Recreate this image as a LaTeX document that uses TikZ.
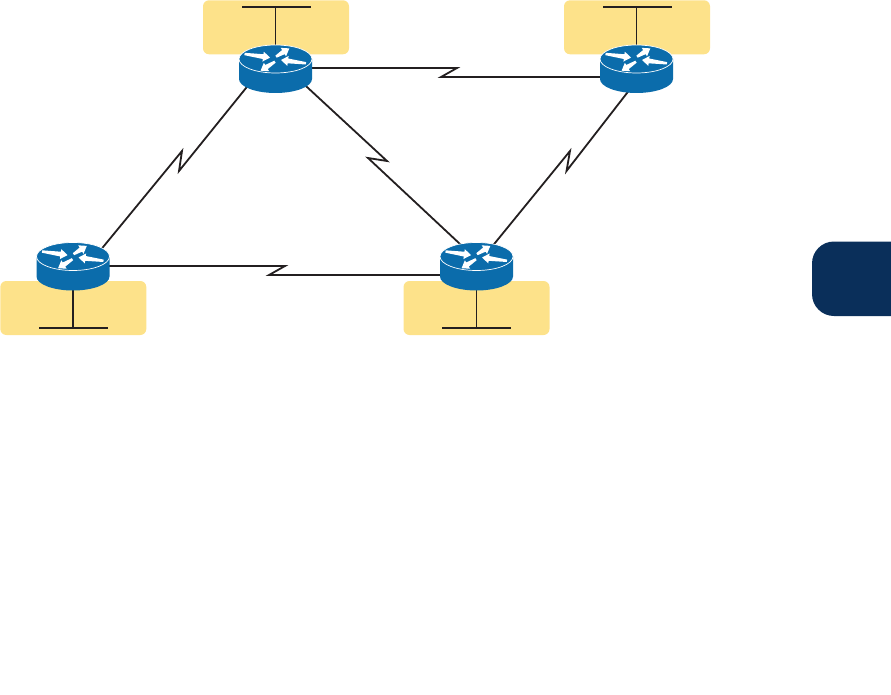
\documentclass[tikz,border=0pt]{standalone}
\definecolor{lanyellow}{HTML}{FDE28A}
\definecolor{routerblue}{HTML}{0B6CAB}
\definecolor{tabnavy}{HTML}{0A2F5A}
\definecolor{wire}{HTML}{231F20}
\tikzset{
  x=1pt,y=-1pt,
  lanbox/.style={fill=lanyellow,rounded corners=6pt,inner sep=0pt,minimum width=146pt,minimum height=54pt},
  routerspot/.style={inner sep=0pt,minimum width=73pt,minimum height=48pt},
  wireline/.style={draw=wire,line width=1.8pt,line join=miter},
  routerglyph/.pic={
    \fill[routerblue] (-36.5,0) -- (-36.5,20)
       .. controls (-36.5,27.7) and (-20.1,34) .. (0,34)
       .. controls (20.1,34) and (36.5,27.7) .. (36.5,20)
       -- (36.5,0)
       .. controls (36.5,-7.7) and (20.1,-14) .. (0,-14)
       .. controls (-20.1,-14) and (-36.5,-7.7) .. (-36.5,0) -- cycle;
    \draw[white,line width=0.7pt] (0,0) ellipse (36.5 and 14);
    \foreach \ax/\ay/\ang/\len in {-31/-5/-8/25.8, 0.5/-2.3/32/15.7, 30.5/4.3/172.5/25.2, -0.5/2.7/212/17}{
      \fill[white,shift={(\ax,\ay)},rotate=\ang]
        (0,-1.2) -- (\len-7,-2.4) -- (\len-7,-5) -- (\len,0) -- (\len-7,5) -- (\len-7,2.4) -- (0,1.2) -- cycle;
    }
  }
}
\begin{document}
\begin{tikzpicture}
\useasboundingbox (0,0) rectangle (891,695);
% chapter tab
\fill[tabnavy] (891,241.5) -- (834,241.5) .. controls (821.8,241.5) and (812,251.3) .. (812,263.5)
  -- (812,294) .. controls (812,306.2) and (821.8,316) .. (834,316) -- (891,316) -- cycle;
% LAN boxes
\node[lanbox] (lan1) at (276,27.3) {};
\node[lanbox] (lan2) at (637,27.3) {};
\node[lanbox] (lan3) at (73.3,308) {};
\node[lanbox] (lan4) at (476.5,308) {};
% router positions
\node[routerspot] (r1) at (275.5,59) {};
\node[routerspot] (r2) at (636.5,59) {};
\node[routerspot] (r3) at (73,256.5) {};
\node[routerspot] (r4) at (476.5,256.5) {};
% LAN segments
\coordinate (b1l) at (242,7); \coordinate (b1r) at (311,7); \coordinate (b1m) at (275.5,7);
\coordinate (b2l) at (603,7); \coordinate (b2r) at (672,7); \coordinate (b2m) at (636.5,7);
\coordinate (b3l) at (39,328); \coordinate (b3r) at (108,328); \coordinate (b3m) at (73,328);
\coordinate (b4l) at (442,328); \coordinate (b4r) at (511,328); \coordinate (b4m) at (476.5,328);
\draw[wireline] (b1l) -- (b1r) (b1m) -- (r1.center);
\draw[wireline] (b2l) -- (b2r) (b2m) -- (r2.center);
\draw[wireline] (b3l) -- (b3r) (b3m) -- (r3.center);
\draw[wireline] (b4l) -- (b4r) (b4m) -- (r4.center);
% serial links
\coordinate (z12a) at (457,68); \coordinate (z12b) at (441,77);
\coordinate (z13a) at (179,171); \coordinate (z13b) at (182,151);
\coordinate (z14a) at (387,161); \coordinate (z14b) at (368,158);
\coordinate (z24a) at (566.5,171); \coordinate (z24b) at (570,151);
\coordinate (z34a) at (285,266); \coordinate (z34b) at (269,275);
\draw[wireline] (r1.center) ++(30,9) -- (z12a) -- (z12b) -- ([shift={(-30,18)}]r2.center);
\draw[wireline] (r1.center) ++(-23.5,21.6) -- (z13a) -- (z13b) -- ([shift={(26,-4.5)}]r3.center);
\draw[wireline] (r1.center) ++(26.5,23.4) -- (z14a) -- (z14b) -- ([shift={(-8.5,-5)}]r4.center);
\draw[wireline] (r2.center) ++(-2.5,25) -- (z24a) -- (z24b) -- ([shift={(9.5,-2.5)}]r4.center);
\draw[wireline] (r3.center) ++(30,9.5) -- (z34a) -- (z34b) -- ([shift={(-30,18.5)}]r4.center);
% routers
\pic at (r1.center) {routerglyph};
\pic at (r2.center) {routerglyph};
\pic at (r3.center) {routerglyph};
\pic at (r4.center) {routerglyph};
\end{tikzpicture}
\end{document}
